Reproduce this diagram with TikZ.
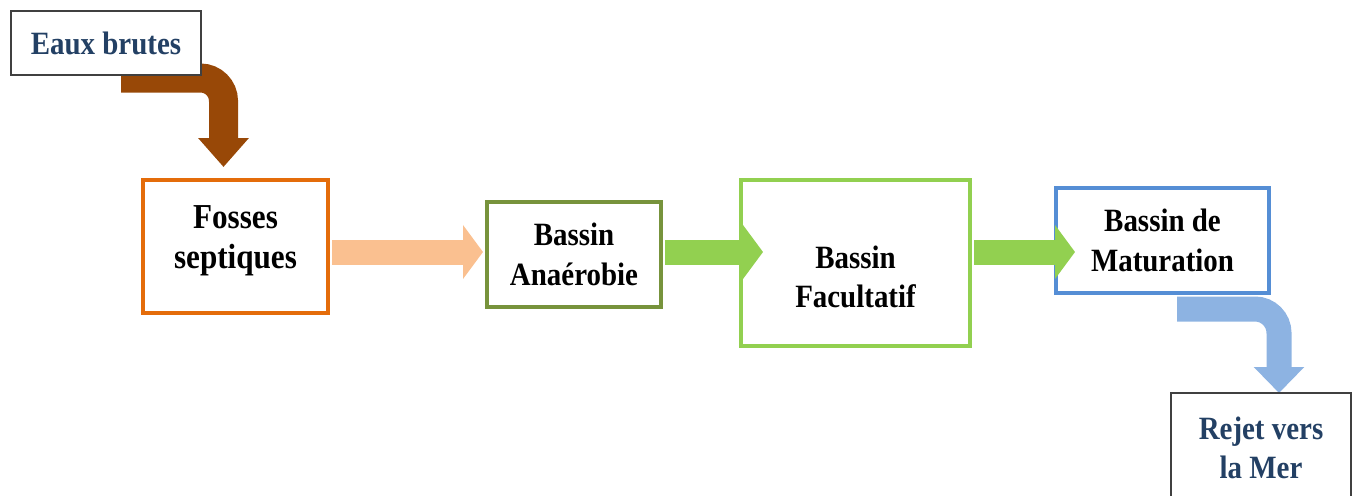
\documentclass[tikz,border=0pt]{standalone}
\usepackage{fontspec}
\setmainfont{Liberation Serif}[FakeStretch=0.89]
\usetikzlibrary{arrows.meta,backgrounds}
\definecolor{textblue}{RGB}{35,64,100}
\definecolor{framegray}{RGB}{64,64,64}
\definecolor{fosseorange}{RGB}{228,108,10}
\definecolor{anaerolive}{RGB}{119,147,60}
\definecolor{facultgreen}{RGB}{146,208,80}
\definecolor{maturblue}{RGB}{85,142,213}
\definecolor{peach}{RGB}{250,192,144}
\definecolor{inbrown}{RGB}{152,72,7}
\definecolor{outblue}{RGB}{141,179,226}

\begin{document}
\begin{tikzpicture}[x=1pt,y=-1pt,
    boxtext/.style={align=center, font=\bfseries\fontsize{32.5}{39.5}\selectfont},
    stage/.style={boxtext, draw=#1, fill=white, line width=4pt},
    endpoint/.style={boxtext, draw=framegray, fill=white, line width=2pt, text=textblue},
    flow/.style={line width=25pt, draw=#1, -{Triangle[length=20pt,width=53pt]}}]
\path[use as bounding box] (0,0) rectangle (1359,495);
\clip (0,0) rectangle (1359,495);

% Draw boxes
\node[endpoint, minimum width=190pt, minimum height=64pt] (eaux) at (106,43) {Eaux brutes};
\node[stage=fosseorange, minimum width=185pt, minimum height=133pt,
      label={[boxtext, font=\bfseries\fontsize{35}{40}\selectfont, yshift=6pt]center:Fosses\\septiques}] (fosses) at (235.5,246.5) {};
\node[stage=anaerolive, minimum width=174pt, minimum height=105pt] (anaer) at (574,254.5) {Bassin\\Anaérobie};
\node[stage=facultgreen, minimum width=229pt, minimum height=166pt,
      label={[boxtext, yshift=-14pt]center:Bassin\\Facultatif}] (facult) at (855.5,263) {};
\node[stage=maturblue, minimum width=213pt, minimum height=105pt] (matur) at (1162.5,240.5) {Bassin de\\Maturation};
\node[endpoint, minimum width=180pt, minimum height=110pt] (rejet) at (1261,448) {Rejet vers\\la Mer};

% Draw flow arrows
\coordinate (flowline) at (0,252);
\draw[flow=peach] ([xshift=2pt]fosses.east |- flowline) -- ([xshift=-2pt]anaer.west |- flowline);
\draw[flow=facultgreen] ([xshift=2pt]anaer.east |- flowline) -- ([xshift=24pt]facult.west |- flowline);
\draw[flow=facultgreen] ([xshift=2pt]facult.east |- flowline) -- ([xshift=21pt]matur.west |- flowline);

% Inlet and outlet arrows
\coordinate (eaux out) at (121,78);
\coordinate (fosses in) at (223.5,167);
\coordinate (matur out) at (1177,309);
\coordinate (rejet in) at (1279,393);
\begin{pgfonlayer}{background}
\draw[inbrown, line width=29pt, rounded corners=23pt, -{Triangle[length=29pt,width=49pt]}] (eaux out) -| (fosses in);
\draw[outblue, line width=25pt, rounded corners=24pt, -{Triangle[length=26pt,width=49pt]}] (matur out) -| (rejet in);
\end{pgfonlayer}
\end{tikzpicture}
\end{document}
